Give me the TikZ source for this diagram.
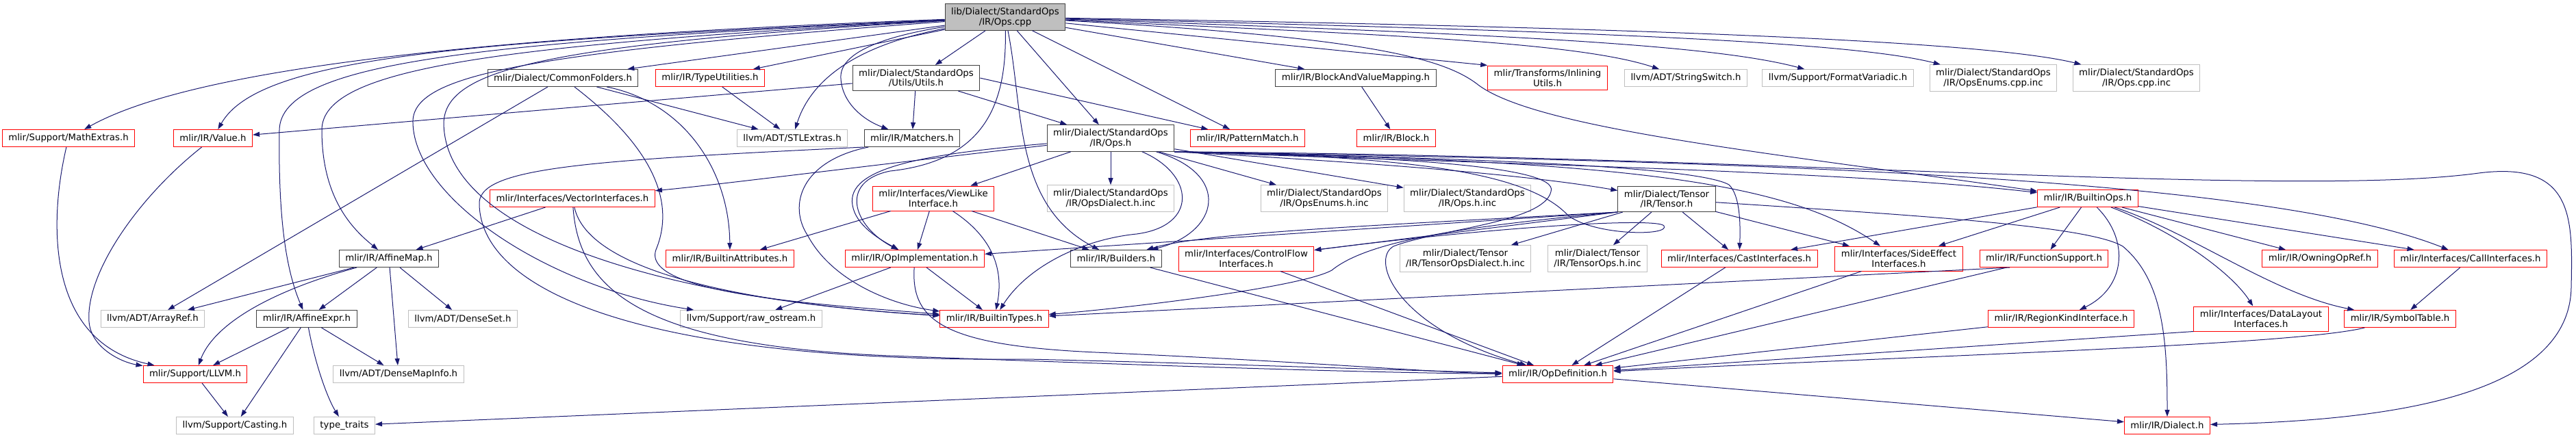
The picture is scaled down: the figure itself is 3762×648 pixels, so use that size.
\documentclass[tikz,border=0pt]{standalone}
\usepackage{fontspec}
\setmainfont{DejaVu Sans}
\usetikzlibrary{arrows.meta}
\definecolor{edgeblue}{RGB}{25,25,112}
\definecolor{cutred}{RGB}{255,0,0}
\definecolor{extgrey}{RGB}{191,191,191}
\definecolor{docgrey}{RGB}{64,64,64}

\begin{document}
\begin{tikzpicture}[x=1pt, y=-1pt,
  hdr/.style={draw=docgrey, fill=white, line width=1pt, inner xsep=9pt, inner ysep=5.5pt,
    minimum height=25pt, align=center, font=\fontsize{13.3pt}{14.7pt}\selectfont},
  hdrcut/.style={hdr, draw=cutred},
  hdrext/.style={hdr, draw=extgrey},
  hdrroot/.style={hdr, fill=extgrey},
  dep/.style={draw=edgeblue, line width=1pt, -{Triangle[length=10pt,width=7pt]}}]
  \useasboundingbox (0,0) rectangle (3762,648);
  % top rows
  \node[hdrroot] (rt) at (1468,25) {lib/Dialect/StandardOps\\/IR/Ops.cpp};
  \node[hdr] (cfold) at (822,114) {mlir/Dialect/CommonFolders.h};
  \node[hdrcut] (tutil) at (1037,114) {mlir/IR/TypeUtilities.h};
  \node[hdr] (utils) at (1338,114) {mlir/Dialect/StandardOps\\/Utils/Utils.h};
  \node[hdr] (bvm) at (1980,114) {mlir/IR/BlockAndValueMapping.h};
  \node[hdrcut] (inl) at (2260,114) {mlir/Transforms/Inlining\\Utils.h};
  \node[hdrext] (strsw) at (2462,114) {llvm/ADT/StringSwitch.h};
  \node[hdrext] (fmtv) at (2684,114) {llvm/Support/FormatVariadic.h};
  \node[hdrext] (enumcpp) at (2911,114) {mlir/Dialect/StandardOps\\/IR/OpsEnums.cpp.inc};
  \node[hdrext] (opscpp) at (3120,114) {mlir/Dialect/StandardOps\\/IR/Ops.cpp.inc};
  \node[hdrcut] (mathx) at (100,202) {mlir/Support/MathExtras.h};
  \node[hdrcut] (value) at (311,202) {mlir/IR/Value.h};
  \node[hdrext] (stlx) at (1157,202) {llvm/ADT/STLExtras.h};
  \node[hdr] (match) at (1332,202) {mlir/IR/Matchers.h};
  \node[hdr] (opsh) at (1622,202) {mlir/Dialect/StandardOps\\/IR/Ops.h};
  \node[hdrcut] (patm) at (1822,202) {mlir/IR/PatternMatch.h};
  \node[hdrcut] (block) at (2039,202) {mlir/IR/Block.h};
  \node[hdrcut] (vecif) at (836,290) {mlir/Interfaces/VectorInterfaces.h};
  \node[hdrcut] (viewif) at (1363,290) {mlir/Interfaces/ViewLike\\Interface.h};
  \node[hdrext] (opsdia) at (1622,290) {mlir/Dialect/StandardOps\\/IR/OpsDialect.h.inc};
  \node[hdrext] (enumh) at (1934,290) {mlir/Dialect/StandardOps\\/IR/OpsEnums.h.inc};
  \node[hdrext] (opshinc) at (2143,290) {mlir/Dialect/StandardOps\\/IR/Ops.h.inc};
  \node[hdr] (tensor) at (2434,291) {mlir/Dialect/Tensor\\/IR/Tensor.h};
  \node[hdrcut] (bops) at (3049,290) {mlir/IR/BuiltinOps.h};
  % lower rows
  \node[hdr] (amap) at (568,378) {mlir/IR/AffineMap.h};
  \node[hdrcut] (battr) at (1066,378) {mlir/IR/BuiltinAttributes.h};
  \node[hdrcut] (opimpl) at (1336,378) {mlir/IR/OpImplementation.h};
  \node[hdr] (build) at (1630,378) {mlir/IR/Builders.h};
  \node[hdrcut] (cflow) at (1820,378) {mlir/Interfaces/ControlFlow\\Interfaces.h};
  \node[hdrext] (tdia) at (2140,378) {mlir/Dialect/Tensor\\/IR/TensorOpsDialect.h.inc};
  \node[hdrext] (tops) at (2333,378) {mlir/Dialect/Tensor\\/IR/TensorOps.h.inc};
  \node[hdrcut] (castif) at (2540,378) {mlir/Interfaces/CastInterfaces.h};
  \node[hdrcut] (sidefx) at (2773,378) {mlir/Interfaces/SideEffect\\Interfaces.h};
  \node[hdrcut] (fsup) at (2985,378) {mlir/IR/FunctionSupport.h};
  \node[hdrcut] (owning) at (3388,378) {mlir/IR/OwningOpRef.h};
  \node[hdrcut] (callif) at (3608,378) {mlir/Interfaces/CallInterfaces.h};
  \node[hdrext] (aref) at (223,466) {llvm/ADT/ArrayRef.h};
  \node[hdr] (aexpr) at (448,466) {mlir/IR/AffineExpr.h};
  \node[hdrext] (dset) at (676,466) {llvm/ADT/DenseSet.h};
  \node[hdrext] (rawos) at (1097,466) {llvm/Support/raw\_ostream.h};
  \node[hdrcut] (btypes) at (1452,466) {mlir/IR/BuiltinTypes.h};
  \node[hdrcut] (rkind) at (3010,466) {mlir/IR/RegionKindInterface.h};
  \node[hdrcut] (dlay) at (3302,466) {mlir/Interfaces/DataLayout\\Interfaces.h};
  \node[hdrcut] (symt) at (3505,466) {mlir/IR/SymbolTable.h};
  \node[hdrcut] (llvmh) at (285,547) {mlir/Support/LLVM.h};
  \node[hdrext] (dmi) at (582,547) {llvm/ADT/DenseMapInfo.h};
  \node[hdrcut] (opdef) at (2275,547) {mlir/IR/OpDefinition.h};
  \node[hdrext] (cast) at (343,622) {llvm/Support/Casting.h};
  \node[hdrext] (ttr) at (503,622) {type\_traits};
  \node[hdrcut] (dialect) at (3165,622) {mlir/IR/Dialect.h};

  % straight includes
  \foreach \a/\b in {rt/cfold, rt/tutil, rt/utils, rt/opsh, rt/patm, rt/bvm,
      utils/value, utils/match, utils/opsh, cfold/aref,
      cfold/stlx, tutil/stlx, bvm/block, opsh/viewif, opsh/opsdia, opsh/enumh, opsh/opshinc,
      viewif/battr, viewif/opimpl, viewif/build, vecif/amap, tensor/tdia, tensor/tops,
      tensor/castif, tensor/sidefx, amap/aref, amap/aexpr, amap/dmi, amap/dset, aexpr/llvmh,
      aexpr/cast, aexpr/dmi, llvmh/cast, opimpl/btypes, opimpl/rawos, build/opdef, cflow/opdef,
      castif/opdef, sidefx/opdef, fsup/opdef, rkind/opdef, bops/castif, bops/sidefx, bops/fsup,
      bops/owning, bops/callif, callif/symt, opdef/ttr, opdef/dialect}
    \draw[dep] (\a) -- (\b);
  \draw[dep] (rt) -- (inl.north west);
  \draw[dep] (utils.east) -- (patm);
  \draw[dep] (tensor.south west) -- (cflow);
  \draw[dep] (tensor.south west) -- (opimpl);
  \draw[dep] (dlay.south west) -- (opdef);
  \draw[dep] ([xshift=-50pt]fsup.south) -- (btypes);

  % root, curved
  \draw[dep] (rt) .. controls (800,50) and (300,90) .. (mathx);
  \draw[dep] (rt) .. controls (700,60) and (380,80) .. (value);
  \draw[dep] (rt) .. controls (700,62) and (410,90) .. (408,190) .. controls (406,330) and (420,400) .. (aexpr);
  \draw[dep] (rt) .. controls (720,66) and (470,100) .. (470,190) .. controls (470,290) and (515,335) .. (amap);
  \draw[dep] (rt) .. controls (760,78) and (600,110) .. (603,180) .. controls (606,290) and (800,420) .. (rawos);
  \draw[dep] (rt) .. controls (800,65) and (650,100) .. (648,180) .. controls (650,350) and (1000,440) .. (btypes);
  \draw[dep] (rt) .. controls (1230,70) and (1180,130) .. (stlx);
  \draw[dep] (rt) .. controls (1280,55) and (1225,80) .. (1228,115) .. controls (1230,150) and (1260,175) .. (match);
  \draw[dep] (rt) .. controls (1470,150) and (1440,235) .. (1300,250) .. controls (1225,265) and (1245,330) .. (opimpl);
  \draw[dep] (rt) .. controls (1495,160) and (1480,300) .. (build);
  \draw[dep] (rt) .. controls (2000,50) and (2300,60) .. (strsw);
  \draw[dep] (rt) .. controls (2200,50) and (2500,65) .. (fmtv);
  \draw[dep] (rt) .. controls (2300,45) and (2700,60) .. (enumcpp);
  \draw[dep] (rt) .. controls (2400,40) and (2900,60) .. (opscpp);
  \draw[dep] (rt) .. controls (2000,55) and (2110,85) .. (2160,125) .. controls (2250,190) and (2600,225) .. (bops);

  % Ops.h, curved
  \draw[dep] (opsh) .. controls (1300,238) and (1050,270) .. (vecif);
  \draw[dep] (opsh) .. controls (1350,225) and (1235,245) .. (1245,300) .. controls (1250,330) and (1285,350) .. (opimpl);
  \draw[dep] (opsh) .. controls (1745,255) and (1750,330) .. (1660,342) .. controls (1580,350) and (1500,390) .. (btypes);
  \draw[dep] (opsh) .. controls (1800,255) and (1780,340) .. (build);
  \draw[dep] (opsh.south east) .. controls (1900,232) and (2200,250) .. (tensor);
  \draw[dep] (opsh.south east) .. controls (2200,240) and (2700,250) .. (bops);
  \draw[dep] (opsh.south east) .. controls (2200,232) and (2480,245) .. (2525,270) .. controls (2540,285) and (2542,320) .. (castif);
  \draw[dep] (opsh.south east) .. controls (2350,235) and (2600,260) .. (sidefx);
  \draw[dep] (opsh.south east) .. controls (2500,235) and (3300,255) .. (callif);
  \draw[dep] (opsh.south east) .. controls (2600,228) and (3350,290) .. (3620,253) .. controls (3760,235) and (3757,320) .. (3755,420) .. controls (3752,590) and (3450,615) .. (dialect);
  \draw[dep] (opsh.south east) .. controls (2000,228) and (2280,240) .. (2265,280) .. controls (2255,325) and (2100,335) .. (2035,360) .. controls (2000,380) and (2040,480) .. (opdef);
  \draw[dep] (opsh.south east) .. controls (2050,228) and (2230,250) .. (2290,315) .. controls (2330,345) and (2440,345) .. (2430,330) .. controls (2420,318) and (2200,330) .. (cflow);

  % Tensor.h and BuiltinOps.h, curved
  \draw[dep] (tensor.south west) .. controls (2000,330) and (1760,340) .. (build);
  \draw[dep] (tensor.south west) .. controls (2150,330) and (2000,350) .. (1945,395) .. controls (1900,420) and (1650,450) .. (btypes);
  \draw[dep] (tensor) .. controls (2800,315) and (3050,330) .. (3100,360) .. controls (3160,410) and (3165,500) .. (dialect);
  \draw[dep] (bops) .. controls (3110,350) and (3105,420) .. (rkind);
  \draw[dep] (bops) .. controls (3180,340) and (3260,400) .. (dlay);
  \draw[dep] (bops) .. controls (3200,340) and (3320,430) .. (symt);
  \draw[dep] (symt) .. controls (3350,505) and (2800,520) .. (opdef);

  % left part, curved
  \draw[dep] (cfold) .. controls (1000,150) and (1065,250) .. (battr);
  \draw[dep] (cfold) .. controls (960,220) and (985,300) .. (958,365) .. controls (935,430) and (1200,445) .. (btypes);
  \draw[dep] (match) .. controls (1170,235) and (1150,300) .. (1180,345) .. controls (1215,410) and (1300,445) .. (btypes);
  \draw[dep] (match.south west) .. controls (850,235) and (695,245) .. (700,300) .. controls (705,430) and (950,530) .. (1500,525) .. controls (1800,532) and (2000,540) .. (opdef);
  \draw[dep] (viewif) .. controls (1455,350) and (1465,400) .. (btypes);
  \draw[dep] (vecif) .. controls (860,400) and (1100,445) .. (btypes);
  \draw[dep] (vecif) .. controls (845,420) and (930,505) .. (1300,520) .. controls (1700,535) and (2000,545) .. (opdef);
  \draw[dep] (opimpl) .. controls (1330,470) and (1380,505) .. (1600,515) .. controls (1900,528) and (2100,545) .. (opdef);
  \draw[dep] (amap) .. controls (380,430) and (310,480) .. (llvmh);
  \draw[dep] (aexpr) .. controls (462,540) and (480,585) .. (ttr);
  \draw[dep] (mathx) .. controls (70,330) and (70,500) .. (llvmh);
  \draw[dep] (value) .. controls (200,290) and (125,400) .. (130,470) .. controls (133,510) and (180,530) .. (llvmh);
\end{tikzpicture}
\end{document}
